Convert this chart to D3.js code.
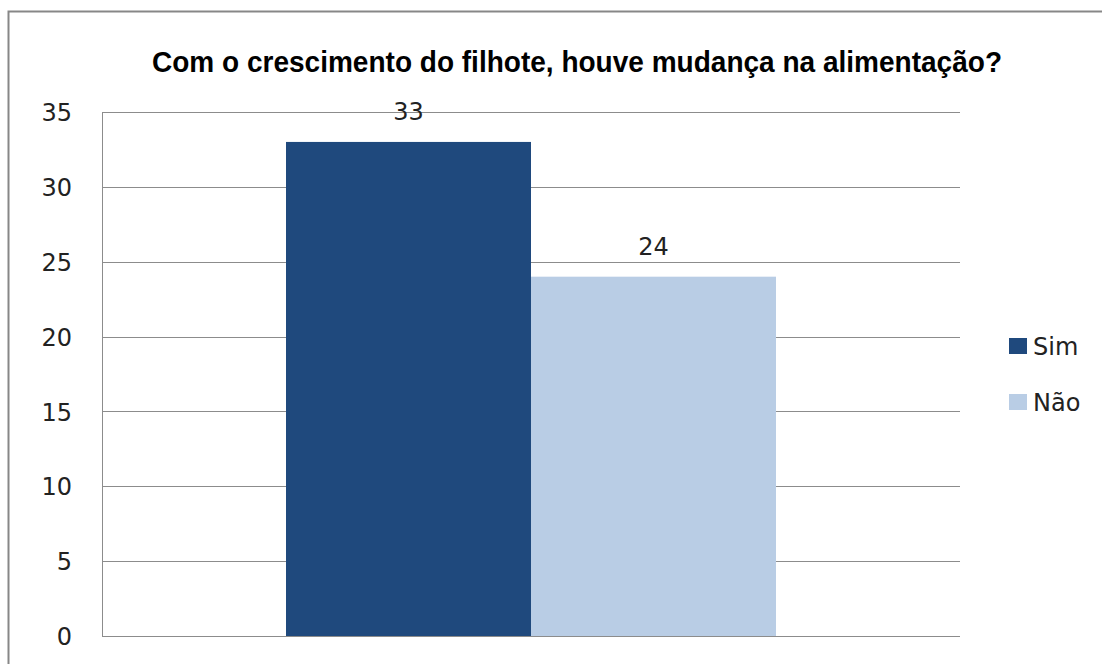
<!DOCTYPE html>
<html>
  <head>
    <script src="https://d3js.org/d3.v7.min.js" charset="utf-8"></script>
    <style>
      body { margin: 0; background: #fff; }
    </style>
  </head>
  <body>
    <svg id="chart" width="1102" height="664"></svg>
    <script>
      var titulo = "Com o crescimento do filhote, houve mudança na alimentação?";
      var series = ["Sim", "Não"];
      var valores = [33, 24];
      var cores = ["#1F497D", "#B9CDE5"];
      var yTicks = [0, 5, 10, 15, 20, 25, 30, 35];

      var svg = d3.select("#chart");
      var m = {left: 102, right: 960, top: 112, bottom: 636};
      var fonte = "DejaVu Sans, sans-serif";

      // outer frame
      svg.append("rect").attr("x", 8.5).attr("y", 11.5).attr("width", 1110).attr("height", 700)
        .attr("fill", "#fff").attr("stroke", "#878787").attr("stroke-width", 2);

      svg.append("text").attr("x", 152).attr("y", 72)
        .attr("font-family", "Liberation Sans, Arial, sans-serif").attr("font-weight", "bold")
        .attr("font-size", 29).attr("textLength", 850).attr("lengthAdjust", "spacingAndGlyphs")
        .text(titulo);

      var y = d3.scaleLinear().domain([0, 35]).range([m.bottom, m.top]);
      var x = d3.scaleBand().domain(series).range([286, 776]);

      var g = svg.append("g");
      g.selectAll("line.grid").data(yTicks).enter().append("line")
        .attr("x1", m.left).attr("x2", m.right)
        .attr("y1", d => Math.round(y(d)) + 0.5).attr("y2", d => Math.round(y(d)) + 0.5)
        .attr("stroke", "#8c8c8c").attr("stroke-width", 1);
      g.append("line").attr("x1", m.left + 0.5).attr("x2", m.left + 0.5)
        .attr("y1", m.top).attr("y2", m.bottom).attr("stroke", "#8c8c8c");

      var yAxis = svg.append("g").attr("transform", "translate(72,0)")
        .call(d3.axisLeft(y).tickValues(yTicks).tickSize(0).tickPadding(0));
      yAxis.select(".domain").remove();
      yAxis.selectAll("text").attr("font-family", fonte).attr("font-size", 24)
        .attr("fill", "#222").attr("dy", "0.36em");

      svg.selectAll("rect.bar").data(valores).enter().append("rect")
        .attr("x", (d, i) => x(series[i])).attr("width", x.bandwidth())
        .attr("y", d => y(d)).attr("height", d => y(0) - y(d))
        .attr("fill", (d, i) => cores[i]);

      svg.selectAll("text.lbl").data(valores).enter().append("text")
        .attr("x", (d, i) => x(series[i]) + x.bandwidth() / 2).attr("y", d => y(d) - 22)
        .attr("text-anchor", "middle").attr("font-family", fonte)
        .attr("font-size", 24).attr("fill", "#222").text(d => d);

      var leg = svg.selectAll("g.leg").data(series).enter().append("g")
        .attr("transform", (d, i) => "translate(1009," + (338 + i * 56) + ")");
      leg.append("rect").attr("width", 18).attr("height", 16).attr("fill", (d, i) => cores[i]);
      leg.append("text").attr("x", 24).attr("y", 17).attr("font-family", fonte)
        .attr("font-size", 24).attr("fill", "#222").text(d => d);
    </script>
  </body>
</html>
